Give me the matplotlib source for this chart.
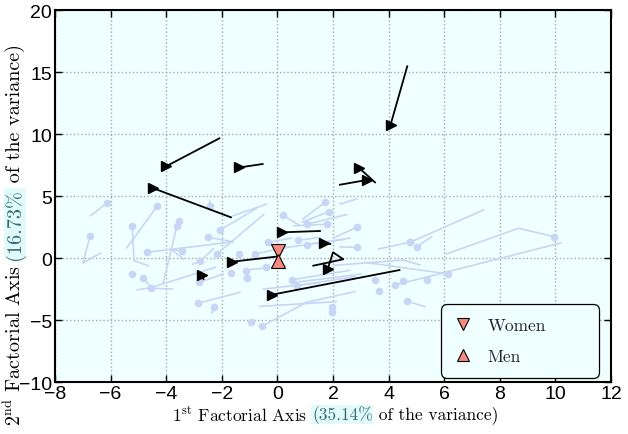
import numpy as np
import matplotlib
matplotlib.use('Agg')
import matplotlib.pyplot as plt
from matplotlib.lines import Line2D

plt.rcParams['mathtext.fontset'] = 'cm'
plt.rcParams['font.family'] = ['Liberation Sans Narrow', 'Liberation Sans', 'DejaVu Sans']

# --- trajectories of individuals (light blue), dot on first point ---
blue_x = [[-6.14, -6.72], [-6.74, -7.0, -6.36], [-4.33, -5.42], [-5.22, -5.16, -4.64],
          [-3.53, -3.62], [-3.62, -4.1], [-4.7, -1.59], [-3.44, -3.83, -3.38],
          [-4.82, -4.52, -3.77], [-4.56, -2.24], [-2.78, -2.3], [-2.51, -1.59],
          [-2.06, -0.75], [-2.42, -2.42], [-2.81, -1.95], [-2.86, -1.35],
          [-2.27, -2.36], [-0.81, 0.4], [-0.33, 0.5], [0.19, 0.81], [1.71, 0.92],
          [1.84, 0.9], [1.05, 2.5], [1.77, 0.6], [0.75, 1.53], [0.53, 2.6],
          [0.69, 2.8], [-0.56, 1.05, 2.8], [4.77, 3.63], [4.77, 7.41], [5.01, 5.55],
          [9.95, 8.67, 6.07], [6.15, 3.15], [4.23, 10.19], [4.65, 5.31],
          [2.85, 2.0], [2.85, 2.25], [-2.18, -0.5], [1.05, 2.4]]
blue_y = [[4.43, 3.41], [1.75, -0.4, 0.4], [4.17, 0.81], [2.6, -0.21, -0.62],
          [2.98, 2.55], [2.55, -1.96], [0.46, 1.31], [0.54, 0.72, -0.08],
          [-1.64, -2.44, -2.5], [-2.4, -0.75], [-0.24, 0.73], [1.67, 1.31],
          [2.26, 4.0], [4.17, 4.62], [-1.96, -1.29], [-3.65, -2.77],
          [-3.98, -4.44], [0.32, 0.9], [1.27, 1.6], [3.47, 2.61], [4.49, 3.15],
          [3.74, 2.9], [2.72, 3.5], [2.72, 2.6], [1.42, 1.67], [-1.75, -1.0],
          [-2.23, -1.5], [-5.51, -3.57, -2.7], [1.27, 0.73], [1.27, 3.87], [0.91, 1.72],
          [1.72, 2.4, 0.32], [-1.29, -0.35], [-2.18, 1.21], [-3.47, -3.93],
          [2.48, 1.6], [0.86, 0.9], [0.32, 3.5], [1.08, 1.5]]

# trajectories without dots
plain_x = [[-5.04, -4.56], [-3.05, -2.78], [-1.59, -0.39], [-0.63, 2.13], [4.53, 5.13],
           [2.0, 4.53], [2.25, 2.85], [0.5, 3.0], [-0.5, 1.5], [0.2, 2.6], [-1.2, 0.3]]
plain_y = [[-2.56, -2.4], [-0.5, -0.24], [3.41, 4.35], [-3.9, -3.52], [-0.16, -0.56],
           [-0.6, -0.16], [4.35, 4.76], [-2.0, -1.3], [-2.5, -2.0], [0.8, 1.6], [-1.0, -0.6]]

# isolated dots
dot_x = [-5.23, -1.67, -1.38, -1.1, -1.14, -0.42, 1.95, 1.95, -0.95, 3.51, 3.67, 4.53, 5.39]
dot_y = [-1.29, -1.21, 0.32, -1.61, -1.07, -0.7, -3.93, -4.38, -5.19, -1.77, -2.63, -1.85, -1.77]

# --- group trajectories (black), marker on first point ---
black_x = [[4.07, 4.67], [-4.0, -2.09], [-1.38, -0.53], [-4.46, -1.67], [2.94, 3.51],
           [3.21, 2.25], [0.15, 1.53], [1.69, 1.9], [-1.64, 0.03], [-2.72, -2.66],
           [1.81, 2.0, 2.37, 1.29], [-0.2, 4.39]]
black_y = [[10.75, 15.46], [7.4, 9.65], [7.3, 7.58], [5.62, 3.28], [7.26, 6.1],
           [6.29, 5.91], [2.07, 2.18], [1.21, 1.13], [-0.3, 0.13], [-1.37, -1.7],
           [-0.89, 0.46, -0.1, -0.62], [-2.96, -0.97]]

women_xy = (0.03, 0.54)
men_xy = (0.03, -0.22)

bg = '#f0ffff'
light = '#c8d6f5'
salmon = '#f48a80'
serif = 'cmr10'

fig = plt.figure(figsize=(6.28, 4.35), dpi=100)
ax = fig.add_axes([0.0876, 0.1195, 0.8854, 0.8552])
ax.set_facecolor(bg)

for xs, ys in zip(blue_x, blue_y):
    ax.plot(xs, ys, color=light, lw=1.2, zorder=2)
    ax.plot(xs[0], ys[0], 'o', color=light, ms=4.5, zorder=2)
for xs, ys in zip(plain_x, plain_y):
    ax.plot(xs, ys, color=light, lw=1.2, zorder=2)
ax.plot(dot_x, dot_y, 'o', color=light, ms=4.5, ls='none', zorder=2)

for xs, ys in zip(black_x, black_y):
    ax.plot(xs, ys, color='black', lw=1.3, zorder=3)
    ax.plot(xs[0], ys[0], '>', color='black', ms=6.5, zorder=4)

ax.plot(*women_xy, 'v', color=salmon, mec='black', mew=0.8, ms=10, zorder=5)
ax.plot(*men_xy, '^', color=salmon, mec='black', mew=0.8, ms=10, zorder=5)

ax.set_xlim(-8, 12)
ax.set_ylim(-10, 20)
ax.set_xticks(np.arange(-8, 13, 2))
ax.set_yticks(np.arange(-10, 21, 5))
ax.grid(True, linestyle=':', color='#a8a8a8', lw=1.0)
ax.set_axisbelow(True)
ax.tick_params(direction='in', length=5, width=1, top=True, right=True,
               labelsize=14, pad=2)
for sp in ax.spines.values():
    sp.set_linewidth(1.5)

# legend
handles = [Line2D([], [], marker='v', ls='none', color=salmon, mec='black', mew=0.8, ms=9),
           Line2D([], [], marker='^', ls='none', color=salmon, mec='black', mew=0.8, ms=9)]
leg = ax.legend(handles, ['Women', 'Men'], loc='lower left', mode='expand',
                bbox_to_anchor=(0.694, 0.011, 0.284, 0.207),
                prop={'family': serif, 'size': 12.5}, frameon=True, fancybox=True,
                edgecolor='black', facecolor=bg, framealpha=1,
                borderpad=0.8, labelspacing=0.9, handletextpad=0.9, handlelength=1.0,
                borderaxespad=0)
leg.get_frame().set_linewidth(0.9)
leg.get_frame().set_boxstyle('round', pad=0, rounding_size=0.35)
for t in leg.get_texts():
    t.set_color('#222222')

# x label in pieces, middle piece highlighted
hl = dict(facecolor='#e2fafa', edgecolor='none', pad=0.5)
xs_fs = 12.5
t1 = fig.text(0.274, 0.032, r'1$^{\rm st}$ Factorial Axis', family=serif, fontsize=xs_fs)
t2 = ax.annotate('(35.14%', xy=(1, 0), xycoords=t1, xytext=(3.5, 0), textcoords='offset points',
                 ha='left', va='bottom', family=serif, fontsize=xs_fs, color='#2f6a78',
                 bbox=hl, annotation_clip=False)
t3 = ax.annotate(' of the variance)', xy=(1, 0), xycoords=t2, ha='left', va='bottom',
                 family=serif, fontsize=xs_fs, annotation_clip=False)

# y label in pieces, rotated
ys_fs = 14.5
y1 = fig.text(0.040, 0.02, r'2$^{\rm nd}$ Factorial Axis', family=serif, fontsize=ys_fs,
              rotation=90, ha='right', va='bottom')
y2 = ax.annotate('(16.73%', xy=(1, 1), xycoords=y1, xytext=(0, 4), textcoords='offset points',
                 ha='right', va='bottom', rotation=90, family=serif, fontsize=ys_fs,
                 color='#2f6a78', bbox=hl, annotation_clip=False)
y3 = ax.annotate(' of the variance)', xy=(1, 1), xycoords=y2, ha='right', va='bottom',
                 rotation=90, family=serif, fontsize=ys_fs, annotation_clip=False)

fig.savefig('out.png', dpi=100, facecolor='white')
